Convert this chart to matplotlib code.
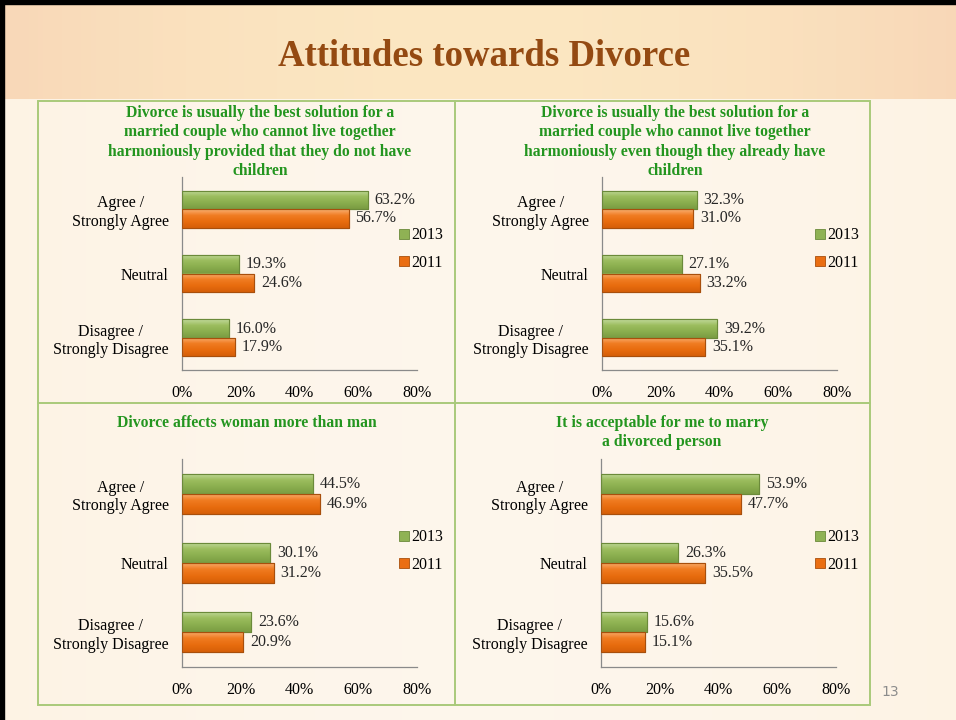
import numpy as np
import matplotlib.pyplot as plt
from matplotlib.lines import Line2D
from matplotlib.patches import Rectangle
from matplotlib.colors import LinearSegmentedColormap

plt.rcParams['font.family'] = ['Liberation Serif', 'DejaVu Serif']

# ---- data ----
categories = ['Agree /\nStrongly Agree', 'Neutral', 'Disagree /\nStrongly Disagree']
years = ['2013', '2011']
titles = [
    'Divorce is usually the best solution for a\nmarried couple who cannot live together\nharmoniously provided that they do not have\nchildren',
    'Divorce is usually the best solution for a\nmarried couple who cannot live together\nharmoniously even though they already have\nchildren',
    'Divorce affects woman more than man',
    'It is acceptable for me to marry\na divorced person',
]
v2013 = [[63.2, 19.3, 16.0], [32.3, 27.1, 39.2], [44.5, 30.1, 23.6], [53.9, 26.3, 15.6]]
v2011 = [[56.7, 24.6, 17.9], [31.0, 33.2, 35.1], [46.9, 31.2, 20.9], [47.7, 35.5, 15.1]]
xticks = [0, 20, 40, 60, 80]

green, green_ed = '#8FB254', '#6B8A3A'
orange, orange_ed = '#EA6E12', '#A84F0C'
green_cm = LinearSegmentedColormap.from_list('g', ['#C2DA9C', '#9CBD5E', '#8AAE4E', '#7A9C42'])
orange_cm = LinearSegmentedColormap.from_list('o', ['#FAB072', '#F07C22', '#E86C0E', '#D65F08'])
grad = np.linspace(0, 1, 64).reshape(-1, 1)

W, H = 956, 720
fig = plt.figure(figsize=(W / 100, H / 100), dpi=100)

# ---- slide background ----
bg = fig.add_axes([0, 0, 1, 1])
bg.set_xlim(0, W)
bg.set_ylim(H, 0)
bg.axis('off')
xx = np.linspace(-1, 1, 200)
body = np.ones((2, 200, 3))
body[:] = np.array([0.996, 0.965, 0.925])
body[..., 1] -= 0.012 * xx ** 2
body[..., 2] -= 0.03 * xx ** 2
bg.imshow(body, extent=[0, W, H, 0], aspect='auto', zorder=0)
head = np.ones((2, 200, 3))
head[..., 0] = 0.985 - 0.01 * xx ** 2
head[..., 1] = 0.905 - 0.06 * xx ** 2
head[..., 2] = 0.760 - 0.04 * xx ** 2
bg.imshow(head, extent=[0, W, 99, 0], aspect='auto', zorder=1)
bg.add_patch(Rectangle((0, 0), W, 4, color='black', zorder=2))
bg.add_patch(Rectangle((0, 0), 4, H, color='black', zorder=2))
# panel frames
pc = '#A9C97A'
bg.add_patch(Rectangle((38, 101), 832, 604, fill=False, ec=pc, lw=1.4, zorder=3))
bg.plot([455, 455], [101, 705], color=pc, lw=1.4, zorder=3)
bg.plot([38, 870], [403, 403], color=pc, lw=1.4, zorder=3)

fig.text(484 / W, 1 - 57 / H, 'Attitudes towards Divorce', ha='center', va='center',
         fontsize=26.5, fontweight='bold', color='#944A12')
fig.text(890 / W, 1 - 692 / H, '13', ha='center', va='center', fontsize=10,
         color='#8C8C8C', family='DejaVu Sans')

# ---- panels ----
axes_px = [(182, 177, 370), (602, 177, 370), (182, 459, 667), (601, 459, 667)]
title_pos = [(260, 105), (675, 105), (247, 415), (662, 415)]
legend_pos = [(398, 249), (814, 249), (398, 551), (814, 551)]

for i in range(4):
    x0, yt, yb = axes_px[i]
    ax = fig.add_axes([x0 / W, 1 - yb / H, 235 / W, (yb - yt) / H])
    ax.patch.set_alpha(0)
    pos = np.arange(len(categories))
    h = 0.29
    for vals, off, c, ce, cm in [(v2013[i], -h / 2, green, green_ed, green_cm),
                                 (v2011[i], h / 2, orange, orange_ed, orange_cm)]:
        bars = ax.barh(pos + off, vals, height=h, color=c, edgecolor=ce, lw=0.8, zorder=2)
        for b in bars:
            x, y = b.get_x(), b.get_y()
            im = ax.imshow(grad, cmap=cm, aspect='auto', zorder=2.5,
                           extent=[x, x + b.get_width(), y + b.get_height(), y])
            im.set_clip_path(b)
        ax.barh(pos + off, vals, height=h, fill=False, edgecolor=ce, lw=0.8, zorder=3)
        for p, v in zip(pos, vals):
            ax.text(v + 2.3, p + off, f'{v:.1f}%', va='center', ha='left',
                    fontsize=11.5, color='#262626')
    ax.set_xlim(0, 80)
    ax.set_ylim(2.5, -0.5)
    ax.set_xticks(xticks)
    ax.set_xticklabels([f'{t}%' for t in xticks])
    ax.set_yticks(pos)
    ax.set_yticklabels(categories)
    for lbl in ax.get_yticklabels():
        lbl.set_multialignment('center')
    ax.tick_params(axis='both', length=0, labelsize=11.5, colors='black')
    ax.tick_params(axis='x', pad=11)
    ax.tick_params(axis='y', pad=9.5)
    for s in ['top', 'right']:
        ax.spines[s].set_visible(False)
    for s in ['left', 'bottom']:
        ax.spines[s].set_color('#8A8A8A')
        ax.spines[s].set_linewidth(0.9)

    tx, ty = title_pos[i]
    fig.text(tx / W, 1 - ty / H, titles[i], ha='center', va='top', fontsize=11.3,
             fontweight='bold', color='#23951F', linespacing=1.28)

    lx, ly = legend_pos[i]
    handles = [Line2D([], [], ls='', marker='s', markersize=7, markerfacecolor=green,
                      markeredgecolor=green_ed, markeredgewidth=0.6),
               Line2D([], [], ls='', marker='s', markersize=7, markerfacecolor=orange,
                      markeredgecolor=orange_ed, markeredgewidth=0.6)]
    ax.legend(handles, years, loc='center left', bbox_to_anchor=(lx / W, 1 - ly / H),
              bbox_transform=fig.transFigure, frameon=False, fontsize=11.5,
              handlelength=0.7, handletextpad=0.15, labelspacing=0.72, borderpad=0,
              borderaxespad=0)

fig.savefig('out.png', dpi=100)
